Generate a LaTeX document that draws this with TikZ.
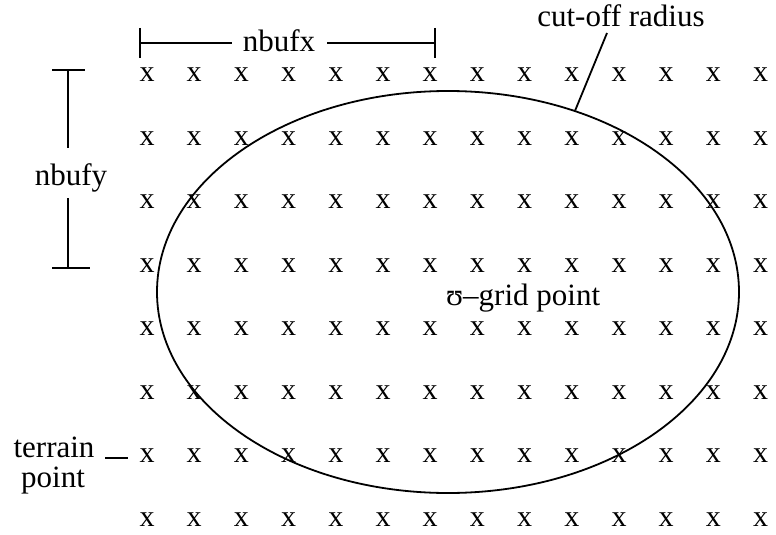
\documentclass[tikz,border=0pt]{standalone}
\usepackage{fontspec}
\setmainfont{Liberation Serif}
\usetikzlibrary{shapes.geometric}
\begin{document}
\begin{tikzpicture}[x=1pt,y=-1pt,
  lbl/.style={font=\fontsize{31}{30}\selectfont, inner sep=0pt},
  gx/.style={font=\fontsize{30}{30}\selectfont, inner sep=0pt},
  ln/.style={line width=1.8pt}]
\useasboundingbox (0,0) rectangle (776,535);
% grid of terrain points
\foreach \i in {0,...,13}{\foreach \j in {0,...,7}{
  \node[gx] (g-\i-\j) at ({147+47.2*\i},{75+63.5*\j}) {x};}}
% cut-off ellipse
\node[draw, ellipse, ln, minimum width=582pt, minimum height=402pt, inner sep=0pt] (cut) at (448,292) {};
% nbufx
\node[lbl, anchor=base] (nbx) at (279,52) {nbufx};
\coordinate (bxl) at (140,43);
\coordinate (bxr) at (435,43);
\draw[ln] (140,28) -- (140,58);
\draw[ln] (435,28) -- (435,58);
\draw[ln] (bxl) -- (232,43);
\draw[ln] (327,43) -- (bxr);
% nbufy
\node[lbl, anchor=base] (nby) at (71,185) {nbufy};
\draw[ln] (52,70) -- (85,70);
\draw[ln] (52,268) -- (90,268);
\draw[ln] (68,70) -- (68,148);
\draw[ln] (68,198) -- (68,268);
% cut-off radius
\node[lbl, anchor=base] (cr) at (621,27) {cut-off radius};
\coordinate (crs) at (607,33);
\draw[ln] (crs) -- (cut.55);
% grid point
\node[lbl, anchor=base west] (gp) at (446,305) {ʊ–grid point};
% terrain point
\node[lbl, anchor=base] (tp1) at (54,457) {terrain};
\node[lbl, anchor=base] (tp2) at (53,487) {point};
\coordinate (tds) at (105,458);
\coordinate (tde) at (128,458);
\draw[ln] (tds) -- (tde);
\end{tikzpicture}
\end{document}
